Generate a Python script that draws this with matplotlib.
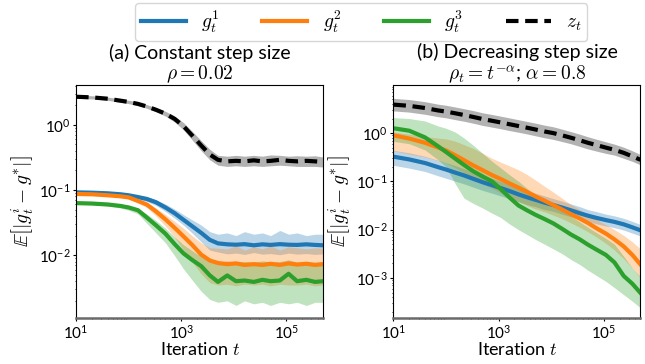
import matplotlib
matplotlib.use("Agg")
import matplotlib.pyplot as plt
from matplotlib.lines import Line2D

plt.rcParams['font.family'] = ['Lato', 'DejaVu Sans']
plt.rcParams['mathtext.fontset'] = 'cm'

# iteration grid (shared by both panels)
t = [10, 20, 40, 70, 100, 150, 220, 330, 500, 750, 1100, 1600, 2400, 3500, 5000,
     7500, 11000, 16000, 24000, 35000, 50000, 75000, 110000, 160000, 240000, 350000, 500000]

# ---- (a) constant step size ----
a_g1 = [0.092, 0.091, 0.089, 0.086, 0.083, 0.078, 0.073, 0.065, 0.054, 0.044, 0.035, 0.028, 0.022, 0.0172,
        0.0152, 0.0147, 0.0145, 0.0148, 0.0142, 0.0147, 0.0144, 0.0148, 0.0145, 0.0144, 0.0147, 0.0144, 0.0142]
a_g1_hi = [0.096, 0.095, 0.093, 0.090, 0.087, 0.083, 0.079, 0.071, 0.061, 0.051, 0.042, 0.035, 0.029, 0.023,
           0.021, 0.022, 0.020, 0.023, 0.021, 0.022, 0.020, 0.024, 0.021, 0.022, 0.020, 0.021, 0.021]
a_g1_lo = [0.088, 0.087, 0.085, 0.082, 0.078, 0.073, 0.067, 0.058, 0.047, 0.037, 0.029, 0.022, 0.016, 0.012,
           0.0112, 0.0105, 0.0108, 0.0103, 0.011, 0.0104, 0.0106, 0.0102, 0.0108, 0.0104, 0.0106, 0.0103, 0.0105]

a_g2 = [0.087, 0.086, 0.083, 0.080, 0.077, 0.068, 0.060, 0.047, 0.0355, 0.0263, 0.0195, 0.0145, 0.0102, 0.0083,
        0.0076, 0.0073, 0.0075, 0.0071, 0.0073, 0.0071, 0.0074, 0.0071, 0.0075, 0.0072, 0.0074, 0.0071, 0.0073]
a_g2_hi = [0.089, 0.088, 0.085, 0.082, 0.080, 0.072, 0.065, 0.053, 0.042, 0.033, 0.026, 0.020, 0.0155, 0.013,
           0.0128, 0.0125, 0.014, 0.012, 0.0135, 0.0125, 0.014, 0.012, 0.0135, 0.013, 0.0125, 0.013, 0.0128]
a_g2_lo = [0.085, 0.084, 0.081, 0.077, 0.073, 0.063, 0.054, 0.040, 0.028, 0.019, 0.012, 0.0080, 0.0052, 0.0038,
           0.0035, 0.0036, 0.0034, 0.0036, 0.0035, 0.0036, 0.0034, 0.0036, 0.0035, 0.0035, 0.0036, 0.0034, 0.0035]

a_g3 = [0.063, 0.062, 0.060, 0.057, 0.054, 0.049, 0.038, 0.0288, 0.0214, 0.0148, 0.0107, 0.0085, 0.0068, 0.0049,
        0.0039, 0.0049, 0.0040, 0.0041, 0.0039, 0.0042, 0.0040, 0.0041, 0.0052, 0.0040, 0.0042, 0.0039, 0.0040]
a_g3_hi = [0.065, 0.064, 0.062, 0.059, 0.057, 0.052, 0.043, 0.034, 0.026, 0.019, 0.0145, 0.0118, 0.0095, 0.0082,
           0.0078, 0.0082, 0.0078, 0.008, 0.0078, 0.0082, 0.0079, 0.008, 0.0085, 0.0078, 0.008, 0.0078, 0.008]
a_g3_lo = [0.061, 0.060, 0.057, 0.053, 0.049, 0.043, 0.031, 0.022, 0.0155, 0.0098, 0.0062, 0.0042, 0.0028, 0.0021,
           0.0019, 0.0020, 0.0017, 0.0020, 0.0018, 0.0019, 0.0017, 0.0019, 0.0018, 0.0019, 0.0017, 0.0019, 0.0019]

a_z = [2.69, 2.63, 2.51, 2.34, 2.24, 2.09, 1.91, 1.70, 1.48, 1.23, 0.955, 0.69, 0.48, 0.35,
       0.29, 0.275, 0.28, 0.275, 0.285, 0.275, 0.28, 0.29, 0.28, 0.275, 0.28, 0.275, 0.27]
a_z_hi = [2.85, 2.79, 2.66, 2.48, 2.38, 2.22, 2.04, 1.83, 1.61, 1.36, 1.08, 0.80, 0.57, 0.42,
          0.34, 0.33, 0.34, 0.33, 0.34, 0.33, 0.345, 0.34, 0.33, 0.335, 0.33, 0.335, 0.32]
a_z_lo = [2.55, 2.49, 2.37, 2.21, 2.11, 1.97, 1.79, 1.58, 1.36, 1.10, 0.84, 0.59, 0.40, 0.29,
          0.24, 0.23, 0.235, 0.23, 0.235, 0.23, 0.235, 0.24, 0.235, 0.23, 0.23, 0.23, 0.225]

# ---- (b) decreasing step size ----
b_g1 = [0.325, 0.285, 0.240, 0.198, 0.176, 0.152, 0.133, 0.113, 0.0960, 0.0835, 0.0726, 0.0632, 0.0537, 0.0468,
        0.0417, 0.0363, 0.0324, 0.0288, 0.0251, 0.0219, 0.0195, 0.0174, 0.0158, 0.0145, 0.0129, 0.0112, 0.0097]
b_g1_hi = [0.44, 0.39, 0.33, 0.275, 0.245, 0.212, 0.183, 0.156, 0.132, 0.115, 0.100, 0.087, 0.074, 0.064,
           0.057, 0.050, 0.044, 0.039, 0.034, 0.030, 0.026, 0.0235, 0.021, 0.0193, 0.0172, 0.0149, 0.0128]
b_g1_lo = [0.215, 0.188, 0.160, 0.131, 0.116, 0.101, 0.089, 0.076, 0.065, 0.057, 0.050, 0.044, 0.038, 0.033,
           0.030, 0.026, 0.024, 0.021, 0.0185, 0.0163, 0.0146, 0.0131, 0.0119, 0.0110, 0.0098, 0.0085, 0.0074]

b_g2 = [0.90, 0.77, 0.63, 0.505, 0.437, 0.347, 0.275, 0.214, 0.170, 0.135, 0.112, 0.0912, 0.0741, 0.0603,
        0.0490, 0.0398, 0.0324, 0.0263, 0.0209, 0.0170, 0.0138, 0.0105, 0.0083, 0.0063, 0.0045, 0.0030, 0.0019]
b_g2_hi = [1.05, 0.95, 0.85, 0.79, 0.76, 0.68, 0.575, 0.48, 0.38, 0.30, 0.25, 0.21, 0.174, 0.138,
           0.107, 0.079, 0.060, 0.045, 0.033, 0.026, 0.021, 0.0158, 0.0126, 0.0100, 0.0076, 0.0056, 0.0040]
b_g2_lo = [0.43, 0.37, 0.32, 0.27, 0.240, 0.191, 0.151, 0.115, 0.089, 0.071, 0.0575, 0.0468, 0.0380, 0.0316,
           0.0269, 0.0234, 0.0200, 0.0170, 0.0138, 0.0112, 0.0091, 0.0069, 0.0052, 0.0038, 0.0025, 0.0016, 0.0010]

b_g3 = [1.26, 1.12, 0.813, 0.537, 0.407, 0.295, 0.219, 0.162, 0.126, 0.100, 0.0692, 0.0468, 0.0316, 0.0251,
        0.0204, 0.0166, 0.0135, 0.0105, 0.0079, 0.0063, 0.0049, 0.0038, 0.0030, 0.0021, 0.0011, 0.00076, 0.00049]
b_g3_hi = [2.09, 2.00, 1.78, 1.41, 1.26, 1.05, 0.79, 0.56, 0.38, 0.26, 0.19, 0.138, 0.100, 0.071,
           0.052, 0.040, 0.0316, 0.0251, 0.0191, 0.0145, 0.0112, 0.0085, 0.0066, 0.0050, 0.0028, 0.0016, 0.00105]
b_g3_lo = [0.676, 0.603, 0.447, 0.282, 0.200, 0.089, 0.045, 0.035, 0.028, 0.022, 0.0178, 0.0132, 0.0100, 0.0079,
           0.0063, 0.0050, 0.0040, 0.0032, 0.0024, 0.0019, 0.00145, 0.0011, 0.00085, 0.00063, 0.00045, 0.00033, 0.00024]

b_z = [3.89, 3.67, 3.31, 2.95, 2.79, 2.57, 2.37, 2.16, 1.95, 1.80, 1.66, 1.53, 1.40, 1.29,
       1.19, 1.08, 1.0, 0.90, 0.80, 0.71, 0.63, 0.56, 0.50, 0.45, 0.39, 0.33, 0.28]
b_z_hi = [5.25, 4.95, 4.47, 3.98, 3.77, 3.47, 3.20, 2.92, 2.63, 2.43, 2.24, 2.07, 1.89, 1.74,
          1.61, 1.46, 1.35, 1.21, 1.07, 0.95, 0.84, 0.74, 0.66, 0.59, 0.51, 0.43, 0.36]
b_z_lo = [2.88, 2.72, 2.45, 2.19, 2.07, 1.90, 1.76, 1.60, 1.44, 1.33, 1.23, 1.13, 1.04, 0.96,
          0.88, 0.80, 0.74, 0.67, 0.60, 0.53, 0.47, 0.42, 0.38, 0.35, 0.30, 0.26, 0.22]

titles = ["(a) Constant step size\n" + r"$\rho = 0.02$",
          "(b) Decreasing step size\n" + r"$\rho_t = t^{-\alpha}$; $\alpha = 0.8$"]
labels = [r"$g_t^1$", r"$g_t^2$", r"$g_t^3$", r"$z_t$"]
colors = ["tab:blue", "tab:orange", "tab:green"]

panels = [
    dict(g=[(a_g1, a_g1_lo, a_g1_hi), (a_g2, a_g2_lo, a_g2_hi), (a_g3, a_g3_lo, a_g3_hi)],
         z=(a_z, a_z_lo, a_z_hi), ylim=(1.1e-3, 4.1), yticks=[1e-2, 1e-1, 1e0]),
    dict(g=[(b_g1, b_g1_lo, b_g1_hi), (b_g2, b_g2_lo, b_g2_hi), (b_g3, b_g3_lo, b_g3_hi)],
         z=(b_z, b_z_lo, b_z_hi), ylim=(1.5e-4, 10.0), yticks=[1e-3, 1e-2, 1e-1, 1e0]),
]

fig = plt.figure(figsize=(6.45, 3.64), dpi=100)
ax_pos = [[0.118, 0.127, 0.383, 0.640], [0.610, 0.127, 0.383, 0.640]]

for pos, p, title in zip(ax_pos, panels, titles):
    ax = fig.add_axes(pos)
    for (m, lo, hi), c in zip(p["g"], colors):
        ax.fill_between(t, lo, hi, color=c, alpha=0.3, linewidth=0)
        ax.plot(t, m, color=c, linewidth=3)
    zm, zlo, zhi = p["z"]
    ax.fill_between(t, zlo, zhi, color="k", alpha=0.3, linewidth=0)
    ax.plot(t, zm, color="k", linewidth=3, linestyle=(0, (3, 1.6)))

    ax.set_xscale("log")
    ax.set_yscale("log")
    ax.set_xlim(10, 5e5)
    ax.set_ylim(*p["ylim"])
    ax.set_xticks([1e1, 1e3, 1e5])
    ax.set_yticks(p["yticks"])
    ax.tick_params(which="major", length=2, width=0.8, labelsize=11, pad=2)
    ax.tick_params(which="minor", length=1, width=0.6)
    ax.spines["bottom"].set_color("#6a6a6a")
    ax.spines["bottom"].set_linewidth(1.8)
    ax.set_xlabel(r"Iteration $t$", fontsize=13, labelpad=0)
    ax.set_ylabel(r"$\mathbb{E}\left[|g_t^i - g^{*}|\right]$", fontsize=14, labelpad=2)
    ax.set_title(title, fontsize=14, linespacing=1.1, pad=1)

handles = [Line2D([], [], color=c, linewidth=3) for c in colors]
handles.append(Line2D([], [], color="k", linewidth=3, linestyle=(0, (3, 1.6))))
fig.legend(handles, labels, loc="upper center", bbox_to_anchor=(0.56, 0.997), ncol=4,
           fontsize=14, handlelength=2.3, columnspacing=2.2, borderpad=0.3,
           frameon=True, borderaxespad=0.1)

fig.savefig("out.png", dpi=100)
